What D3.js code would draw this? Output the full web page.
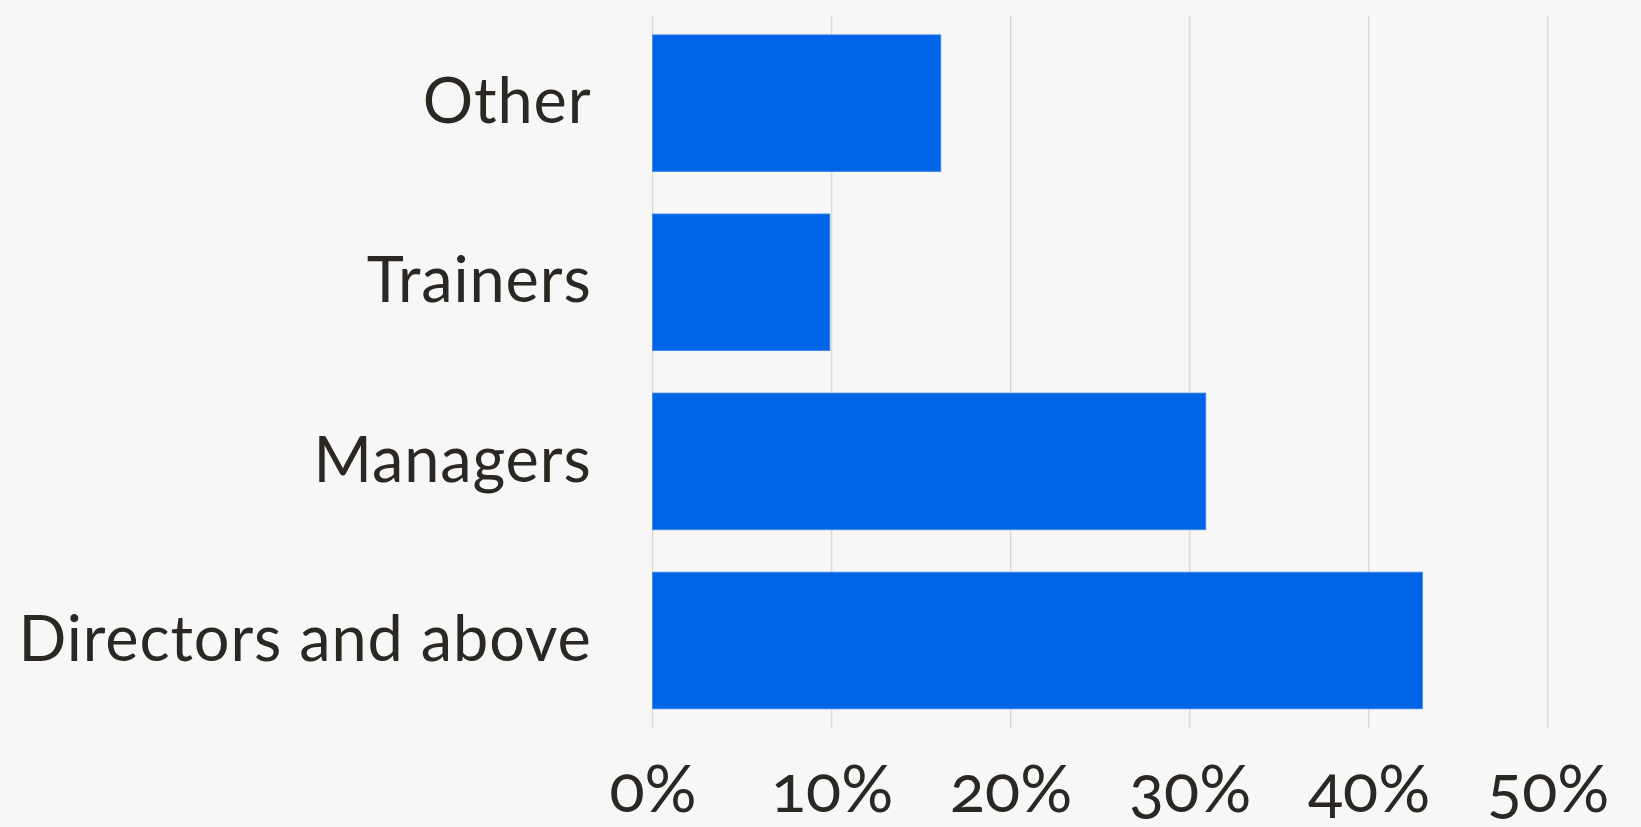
<!DOCTYPE html>
<html>
<head>
<meta charset="utf-8">
<script src="https://cdn.jsdelivr.net/npm/d3@7"></script>
<style>
  html, body { margin: 0; padding: 0; background: #f7f7f7; }
  svg { display: block; }
  .lbl text { font-family: Lato, "Open Sans", sans-serif; fill: #2b2723; }
</style>
</head>
<body>
<svg></svg>
<script>
// data
const categories = ["Other", "Trainers", "Managers", "Directors and above"];
const values = [16.1, 9.9, 30.9, 43.0];
const ticks = [0, 10, 20, 30, 40, 50];

const width = 1641, height = 827;

const svg = d3.select("svg")
    .attr("width", width)
    .attr("height", height);

// scales
const x = d3.scaleLinear()
    .domain([0, 50])
    .range([652.6, 1547.7]);

const y = d3.scaleBand()
    .domain(categories)
    .range([15.7, 728])
    .paddingInner(0.237)
    .paddingOuter(0.107);

// vertical grid lines
svg.append("g")
    .selectAll("line")
    .data(ticks)
    .enter()
    .append("line")
    .attr("x1", d => x(d))
    .attr("x2", d => x(d))
    .attr("y1", y.range()[0])
    .attr("y2", y.range()[1])
    .attr("stroke", "#dadada")
    .attr("stroke-width", 1.5);

// bars
svg.append("g")
    .selectAll("rect")
    .data(values)
    .enter()
    .append("rect")
    .attr("x", x(0))
    .attr("y", (d, i) => y(categories[i]))
    .attr("width", d => x(d) - x(0))
    .attr("height", y.bandwidth())
    .attr("fill", "#0064e6")
    .attr("stroke", "#3f88ee")
    .attr("stroke-width", 0.8);

// category axis
const yAxis = svg.append("g")
    .attr("class", "lbl")
    .attr("transform", `translate(${x(0)},0)`)
    .call(d3.axisLeft(y).tickSize(0).tickPadding(61));
yAxis.select(".domain").remove();
yAxis.selectAll("text")
    .attr("font-size", 63)
    .attr("dy", "0.32em")
    .style("letter-spacing", "0.9px");

// percent axis
const xAxis = svg.append("g")
    .attr("class", "lbl")
    .attr("transform", `translate(0,${y.range()[1]})`)
    .call(d3.axisBottom(x).tickValues(ticks).tickSize(0).tickFormat(d => d + "%"));
xAxis.select(".domain").remove();
xAxis.selectAll("text")
    .attr("font-size", 65)
    .attr("y", 84)
    .attr("dy", null)
    .style("font-variant-numeric", "oldstyle-nums");
</script>
</body>
</html>
